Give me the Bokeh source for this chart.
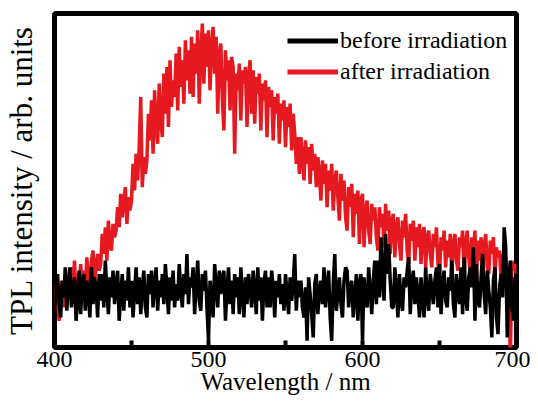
from bokeh.plotting import figure
from bokeh.models import Range1d, FixedTicker, Legend, LegendItem
from bokeh.embed import file_html
from bokeh.resources import INLINE

wavelength = [
    400, 401, 402, 403, 404, 405, 406, 407, 408, 409,
    410, 411, 412, 413, 414, 415, 416, 417, 418, 419,
    420, 421, 422, 423, 424, 425, 426, 427, 428, 429,
    430, 431, 432, 433, 434, 435, 436, 437, 438, 439,
    440, 441, 442, 443, 444, 445, 446, 447, 448, 449,
    450, 451, 452, 453, 454, 455, 456, 457, 458, 459,
    460, 461, 462, 463, 464, 465, 466, 467, 468, 469,
    470, 471, 472, 473, 474, 475, 476, 477, 478, 479,
    480, 481, 482, 483, 484, 485, 486, 487, 488, 489,
    490, 491, 492, 493, 494, 495, 496, 497, 498, 499,
    500, 501, 502, 503, 504, 505, 506, 507, 508, 509,
    510, 511, 512, 513, 514, 515, 516, 517, 518, 519,
    520, 521, 522, 523, 524, 525, 526, 527, 528, 529,
    530, 531, 532, 533, 534, 535, 536, 537, 538, 539,
    540, 541, 542, 543, 544, 545, 546, 547, 548, 549,
    550, 551, 552, 553, 554, 555, 556, 557, 558, 559,
    560, 561, 562, 563, 564, 565, 566, 567, 568, 569,
    570, 571, 572, 573, 574, 575, 576, 577, 578, 579,
    580, 581, 582, 583, 584, 585, 586, 587, 588, 589,
    590, 591, 592, 593, 594, 595, 596, 597, 598, 599,
    600, 601, 602, 603, 604, 605, 606, 607, 608, 609,
    610, 611, 612, 613, 614, 615, 616, 617, 618, 619,
    620, 621, 622, 623, 624, 625, 626, 627, 628, 629,
    630, 631, 632, 633, 634, 635, 636, 637, 638, 639,
    640, 641, 642, 643, 644, 645, 646, 647, 648, 649,
    650, 651, 652, 653, 654, 655, 656, 657, 658, 659,
    660, 661, 662, 663, 664, 665, 666, 667, 668, 669,
    670, 671, 672, 673, 674, 675, 676, 677, 678, 679,
    680, 681, 682, 683, 684, 685, 686, 687, 688, 689,
    690, 691, 692, 693, 694, 695, 696, 697, 698, 699,
    700,
]

after_irradiation = [
    11, 19, 14, 8, 16, 20, 12, 17, 13, 21,
    15, 24, 19, 26, 14, 22, 18, 25, 17, 23,
    17, 27, 21, 19, 26, 29, 20, 24, 28, 23,
    25, 34, 28, 36, 26, 38, 31, 29, 37, 33,
    35, 42, 36, 46, 39, 44, 48, 37, 45, 41,
    44, 55, 47, 58, 50, 60, 75, 48, 57, 52,
    56, 70, 62, 74, 58, 77, 66, 61, 79, 68,
    63, 82, 70, 84, 66, 86, 72, 80, 75, 88,
    71, 90, 78, 86, 73, 92, 80, 89, 76, 93,
    75, 91, 82, 95, 73, 88, 97, 79, 94, 84,
    95, 77, 90, 96, 82, 93, 70, 88, 91, 74,
    65, 89, 80, 86, 71, 87, 84, 58, 82, 77,
    85, 68, 83, 79, 84, 66, 81, 86, 70, 83,
    67, 81, 76, 82, 65, 79, 74, 80, 63, 78,
    72, 77, 62, 75, 70, 76, 61, 73, 68, 74,
    60, 72, 66, 73, 59, 70, 64, 55, 63, 52,
    63, 57, 50, 62, 55, 60, 49, 61, 53, 58,
    48, 57, 52, 44, 56, 49, 55, 42, 53, 47,
    55, 41, 50, 53, 45, 38, 52, 44, 50, 39,
    35, 48, 42, 49, 33, 46, 40, 47, 31, 44,
    46, 30, 41, 44, 35, 31, 43, 38, 42, 33,
    29, 42, 36, 40, 30, 43, 35, 41, 28, 38,
    40, 27, 36, 39, 31, 26, 38, 33, 40, 29,
    25, 37, 32, 38, 26, 36, 30, 37, 25, 34,
    36, 24, 33, 35, 28, 24, 34, 30, 36, 25,
    22, 33, 29, 35, 24, 32, 27, 34, 22, 31,
    34, 26, 23, 33, 30, 35, 21, 31, 35, 27,
    22, 33, 29, 35, 21, 32, 26, 33, 23, 30,
    34, 24, 22, 32, 28, 33, 21, 30, 27, 29,
    20, 28, 25, 27, 22, 24, -5, 26, 23, 25,
    22,
]

before_irradiation = [
    10, 18, 22, 13, 9, 20, 15, 24, 11, 19,
    24, 12, 17, 21, 8, 14, 23, 10, 19, 22,
    11, 20, 16, 9, 24, 13, 21, 18, 9, 22,
    14, 22, 12, 26, 17, 10, 21, 15, 23, 13,
    19, 23, 8, 16, 22, 11, 20, 14, 24, 12,
    20, 9, 17, 24, 13, 21, 10, 18, 23, 12,
    9, 22, 16, 23, 12, 19, 24, 11, 20, 15,
    22, 13, 25, 18, 10, 21, 14, 23, 12, 19,
    14, 25, 17, 12, 22, 16, 28, 13, 21, 18,
    24, 10, 19, 26, 14, 11, 22, 17, 23, 12,
    2, 20, 15, 9, 25, 18, 12, 23, 16, 21,
    23, 8, 17, 24, 13, 20, 10, 22, 15, 21,
    10, 24, 16, 9, 21, 13, 22, 18, 12, 23,
    17, 10, 24, 14, 21, 8, 19, 23, 12, 21,
    12, 23, 18, 9, 20, 15, 22, 13, 19, 11,
    22, 16, 10, 21, 14, 19, 28, 11, 20, 15,
    20, 12, 9, 18, 2, 21, 16, 10, 3, 19,
    22, 10, 17, 20, 13, 24, 12, 18, 23, 9,
    2, 19, 28, 11, 16, 21, 13, 9, 20, 24,
    23, 12, 18, 20, 9, 15, 22, 8, 19, 22,
    2, 21, 14, 12, 24, 17, 10, 20, 26, 13,
    26, 15, 33, 20, 14, 34, 22, 31, 20, 12,
    12, 24, 17, 9, 22, 14, 11, 21, 18, 23,
    27, 10, 19, 23, 13, 21, 16, 9, 21, 14,
    9, 24, 15, 11, 22, 18, 13, 20, 24, 12,
    25, 10, 19, 23, 14, 12, 21, 17, 26, 13,
    9, 22, 16, 13, 24, 10, 27, 15, 11, 21,
    24, 18, 30, 8, 25, 14, 12, 21, 28, 16,
    10, 23, 17, 12, 3, 20, 24, 9, 4, 18,
    22, 15, 36, 30, 3, 20, 26, 12, 8, 21,
    18,
]

x_ticks = [400, 500, 600, 700]
x_minor_ticks = [450, 550, 650]

SERIF = "Liberation Serif"
RED = "#E5191F"
NAN = float("nan")

p = figure(
    width=530, height=397,
    x_range=Range1d(400, 700), y_range=Range1d(0, 100),
    output_backend="svg", toolbar_location=None, title=None,
    min_border_left=54, min_border_right=14, min_border_top=13, min_border_bottom=46,
)
p.background_fill_color = "white"
p.border_fill_color = "white"
p.outline_line_color = "black"
p.outline_line_width = 5
p.grid.visible = False

xa = p.xaxis[0]
xa.ticker = FixedTicker(ticks=x_ticks, minor_ticks=x_minor_ticks)
xa.axis_line_color = None
xa.major_tick_in = 7
xa.major_tick_out = 0
xa.minor_tick_in = 7
xa.minor_tick_out = 0
xa.major_tick_line_width = 4
xa.minor_tick_line_width = 4
xa.major_label_text_font = SERIF
xa.major_label_text_font_size = "24px"
xa.major_label_text_color = "black"
xa.major_label_standoff = 4
xa.axis_label = "Wavelength / nm"
xa.axis_label_text_font = SERIF
xa.axis_label_text_font_size = "25px"
xa.axis_label_text_font_style = "normal"
xa.axis_label_text_color = "black"
xa.axis_label_standoff = -2

ya = p.yaxis[0]
ya.ticker = FixedTicker(ticks=[])
ya.axis_line_color = None
ya.major_tick_in = 0
ya.major_tick_out = 0
ya.minor_tick_in = 0
ya.minor_tick_out = 0
ya.axis_label = "TPL intensity / arb. units"
ya.axis_label_text_font = SERIF
ya.axis_label_text_font_size = "31px"
ya.axis_label_text_font_style = "normal"
ya.axis_label_text_color = "black"
ya.axis_label_standoff = 16

r_after = p.line(wavelength, after_irradiation, line_width=3.5, line_color=RED)
r_before = p.line(wavelength, before_irradiation, line_width=3.5, line_color="black")

leg_b = p.line(x=[NAN], y=[NAN], line_width=5, line_color="black")
leg_a = p.line(x=[NAN], y=[NAN], line_width=5, line_color=RED)
legend = Legend(
    items=[LegendItem(label="before irradiation", renderers=[leg_b]),
           LegendItem(label="after irradiation", renderers=[leg_a])],
    location=(233, 262),
    glyph_width=51, glyph_height=27, label_height=27, spacing=4,
    label_standoff=2, padding=0, margin=0,
    label_text_font=SERIF, label_text_font_size="24px", label_text_color="black",
    border_line_color=None, background_fill_alpha=0,
)
p.add_layout(legend, "center")

open("out.html", "w").write(file_html(p, INLINE))
